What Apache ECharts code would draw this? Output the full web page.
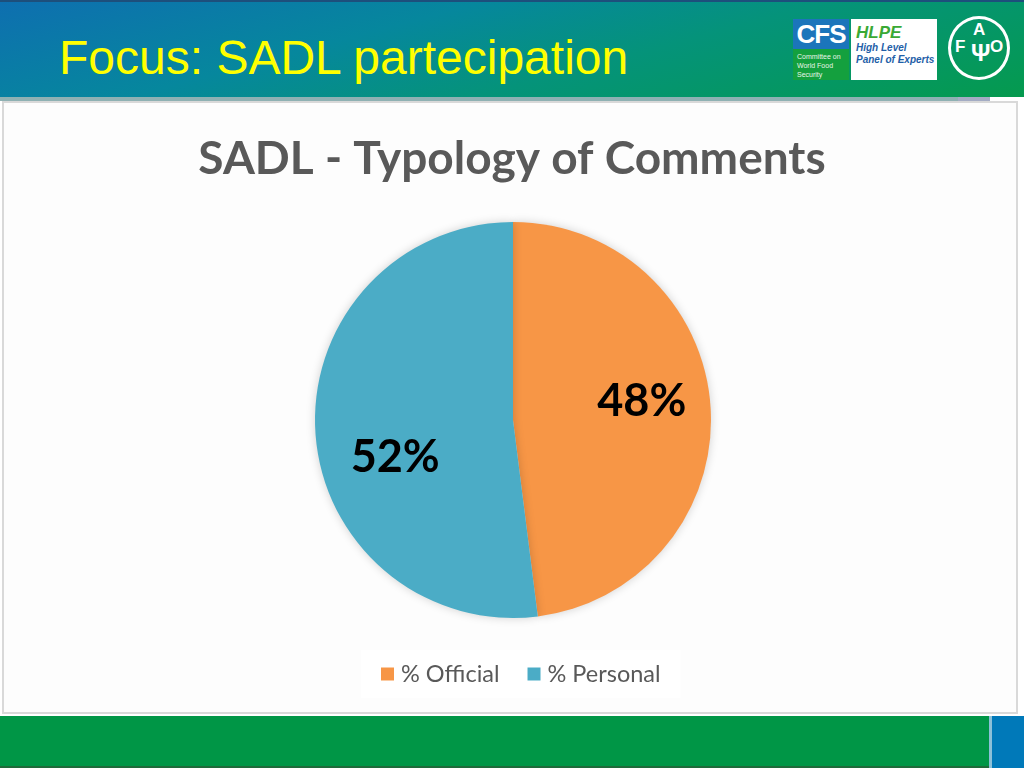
<!DOCTYPE html>
<html>
<head>
<meta charset="utf-8">
<script src="https://cdn.jsdelivr.net/npm/echarts@6/dist/echarts.min.js"></script>
<style>
  html, body { margin:0; padding:0; width:1024px; height:768px; overflow:hidden; background:#fff; }
  #header { position:absolute; left:0; top:0; width:1024px; height:97px;
    background: linear-gradient(165deg, #0e6fb0 0%, #06879d 35%, #05937a 60%, #059a4e 100%);
    border-top:2px solid #1d4f7c; box-sizing:border-box; }
  #slideTitle { position:absolute; left:59px; top:29px; font-family:"Liberation Sans", Arial, sans-serif;
    font-size:48px; color:#ffff00; line-height:54px; }
  #strip1 { position:absolute; left:0; top:97px; width:958px; height:4px; background:#8fb1b3; }
  #strip2 { position:absolute; left:958px; top:97px; width:32px; height:6px; background:#a4acc4; }
  #panel { position:absolute; left:2px; top:101px; width:1016px; height:613px; background:#fdfdfd;
    border:2px solid #d9d9d9; box-sizing:border-box; }
  #footer { position:absolute; left:0; top:716px; width:989px; height:52px; background:#009646;
    border-bottom:2px solid #1f6b3a; box-sizing:border-box; }
  #footSep { position:absolute; left:989px; top:716px; width:3px; height:52px; background:#8cc0d8; }
  #footBlue { position:absolute; left:992px; top:716px; width:32px; height:52px; background:#0079b9; }
  #chart { position:absolute; left:0; top:0; width:1024px; height:768px; }
  .cfsTop { position:absolute; left:793px; top:17px; width:56px; height:30px; background:#1b75bb;
    color:#fff; font:bold 26px "Liberation Sans", Arial, sans-serif; line-height:30px; text-align:center; letter-spacing:-1px; }
  .cfsBot { position:absolute; left:793px; top:47px; width:56px; height:31px; background:#14a03e;
    color:#e8f5e8; font:7px "Liberation Sans", Arial, sans-serif; line-height:9px; padding:3px 0 0 4px; box-sizing:border-box; }
  .hlpe { position:absolute; left:851px; top:17px; width:86px; height:61px; background:#fff; box-sizing:border-box; padding:4px 0 0 5px; }
  .hlpe .h1 { font:italic bold 17px "Liberation Sans", Arial, sans-serif; color:#3aa935; line-height:19px; }
  .hlpe .h2 { font:italic bold 10px "Liberation Sans", Arial, sans-serif; color:#1f5fa8; line-height:12px; }
  .fao { position:absolute; left:948px; top:14px; width:62px; height:64px; border:3px solid #fff; border-radius:50%;
    box-sizing:border-box; color:#fff; font:bold 17px "Liberation Sans", Arial, sans-serif; }
  .fao span { position:absolute; }
</style>
</head>
<body>
<div id="header">
  <div id="slideTitle">Focus: SADL partecipation</div>
  <div class="cfsTop">CFS</div>
  <div class="cfsBot">Committee on<br>World Food<br>Security</div>
  <div class="hlpe"><div class="h1">HLPE</div><div class="h2">High Level<br>Panel of Experts</div></div>
  <div class="fao"><span style="left:22px;top:1px;">A</span><span style="left:4px;top:18px;">F</span><span style="left:39px;top:18px;">O</span><span style="left:20px;top:20px;font-size:24px;">Ψ</span></div>
</div>
<div id="strip1"></div>
<div id="strip2"></div>
<div id="panel"></div>
<div id="footer"></div>
<div id="footSep"></div>
<div id="footBlue"></div>
<div id="chart"></div>
<script>
const chartTitle = "SADL - Typology of Comments";
const categories = ["% Official", "% Personal"];
const values = [48, 52];
const colors = ["#f79646", "#4bacc6"];

const labelShift = [[27, -12], [-16, 31]];

const chart = echarts.init(document.getElementById('chart'), null, { renderer: 'canvas' });
chart.setOption({
  backgroundColor: 'transparent',
  animation: false,
  title: {
    text: chartTitle,
    left: 'center',
    top: 131,
    textStyle: { fontFamily: 'Lato, "Open Sans", sans-serif', fontWeight: 'bold', fontSize: 46, color: '#595959' }
  },
  legend: {
    data: categories,
    bottom: 70,
    left: 361,
    itemWidth: 13,
    itemHeight: 13,
    itemGap: 28,
    icon: 'rect',
    padding: [12, 20],
    backgroundColor: '#ffffff',
    textStyle: { fontFamily: 'Lato, "Open Sans", sans-serif', fontSize: 23.5, color: '#595959', padding: [0, 0, 0, 2] }
  },
  series: [{
    type: 'pie',
    center: [513, 420],
    radius: 198,
    startAngle: 90,
    clockwise: true,
    data: categories.map((c, i) => ({ name: c, value: values[i], itemStyle: { color: colors[i] } })),
    itemStyle: { shadowBlur: 10, shadowColor: 'rgba(0,0,0,0.18)' },
    label: {
      show: true,
      position: 'inside',
      formatter: p => Math.round(p.percent) + '%',
      fontFamily: 'Lato, "Open Sans", sans-serif',
      fontWeight: 'bold',
      fontSize: 45,
      color: '#000'
    },
    labelLine: { show: false },
    labelLayout: params => ({ dx: labelShift[params.dataIndex][0], dy: labelShift[params.dataIndex][1] }),
    emphasis: { disabled: true }
  }]
});
</script>
</body>
</html>
